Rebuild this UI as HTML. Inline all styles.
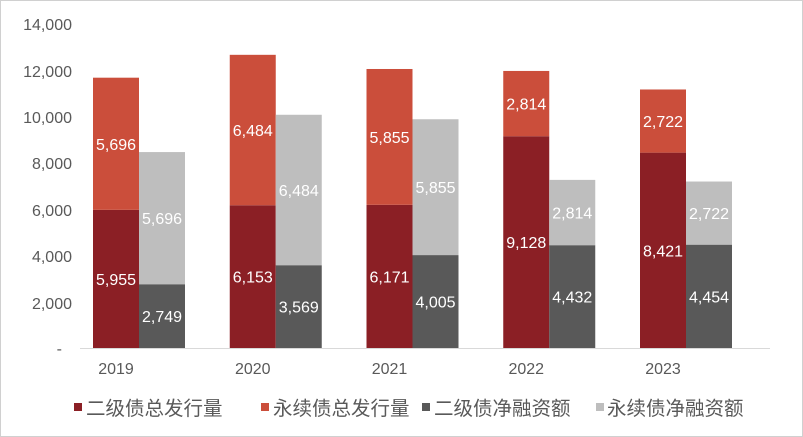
<!DOCTYPE html>
<html><head><meta charset="utf-8"><style>
body{margin:0;background:#fff;}
svg{display:block;font-family:"Liberation Sans","Noto Sans CJK SC",sans-serif;}
</style></head><body>
<svg width="803" height="437" viewBox="0 0 803 437">
<rect x="0.5" y="0.5" width="802" height="436" fill="#fff" stroke="#d0d0d0"/>
<g font-size="16" fill="#595959" text-anchor="end">
<text x="72" y="30">14,000</text>
<text x="72" y="77">12,000</text>
<text x="72" y="123">10,000</text>
<text x="72" y="169">8,000</text>
<text x="72" y="216">6,000</text>
<text x="72" y="262">4,000</text>
<text x="72" y="309">2,000</text>
<text x="62" y="354">-</text>
</g>
<line x1="80" y1="348.5" x2="770" y2="348.5" stroke="#d9d9d9"/>

<g>
<rect x="93" y="209.84" width="46" height="138.16" fill="#8B1F25"/>
<rect x="93" y="77.69" width="46" height="132.15" fill="#CB4E3B"/>
<rect x="139" y="284.22" width="46" height="63.78" fill="#595959"/>
<rect x="139" y="152.07" width="46" height="132.15" fill="#BEBEBE"/>

<rect x="229.75" y="205.25" width="46" height="142.75" fill="#8B1F25"/>
<rect x="229.75" y="54.82" width="46" height="150.43" fill="#CB4E3B"/>
<rect x="275.75" y="265.2" width="46" height="82.8" fill="#595959"/>
<rect x="275.75" y="114.77" width="46" height="150.43" fill="#BEBEBE"/>

<rect x="366.5" y="204.83" width="46" height="143.17" fill="#8B1F25"/>
<rect x="366.5" y="68.99" width="46" height="135.84" fill="#CB4E3B"/>
<rect x="412.5" y="255.08" width="46" height="92.92" fill="#595959"/>
<rect x="412.5" y="119.24" width="46" height="135.84" fill="#BEBEBE"/>

<rect x="503.25" y="136.23" width="46" height="211.77" fill="#8B1F25"/>
<rect x="503.25" y="70.95" width="46" height="65.28" fill="#CB4E3B"/>
<rect x="549.25" y="245.18" width="46" height="102.82" fill="#595959"/>
<rect x="549.25" y="179.9" width="46" height="65.28" fill="#BEBEBE"/>

<rect x="640" y="152.63" width="46" height="195.37" fill="#8B1F25"/>
<rect x="640" y="89.48" width="46" height="63.15" fill="#CB4E3B"/>
<rect x="686" y="244.67" width="46" height="103.33" fill="#595959"/>
<rect x="686" y="181.52" width="46" height="63.15" fill="#BEBEBE"/>
</g>

<g font-size="16" fill="#fff" text-anchor="middle">
<text x="116" y="284.9">5,955</text>
<text x="116" y="149.8">5,696</text>
<text x="162" y="322.1">2,749</text>
<text x="162" y="224.1">5,696</text>

<text x="252.75" y="282.6">6,153</text>
<text x="252.75" y="136">6,484</text>
<text x="298.75" y="312.6">3,569</text>
<text x="298.75" y="196">6,484</text>

<text x="389.5" y="282.4">6,171</text>
<text x="389.5" y="142.9">5,855</text>
<text x="435.5" y="307.5">4,005</text>
<text x="435.5" y="193.2">5,855</text>

<text x="526.25" y="248.1">9,128</text>
<text x="526.25" y="109.6">2,814</text>
<text x="572.25" y="302.6">4,432</text>
<text x="572.25" y="218.5">2,814</text>

<text x="663" y="256.3">8,421</text>
<text x="663" y="127.1">2,722</text>
<text x="709" y="302.3">4,454</text>
<text x="709" y="219.1">2,722</text>
</g>

<g font-size="16" fill="#595959" text-anchor="middle">
<text x="116" y="374">2019</text>
<text x="252.75" y="374">2020</text>
<text x="389.5" y="374">2021</text>
<text x="526.25" y="374">2022</text>
<text x="663" y="374">2023</text>
</g>

<g font-size="19.5" fill="#595959">
<rect x="74" y="403" width="8" height="8" fill="#8B1F25"/><text x="86" y="415">二级债总发行量</text>
<rect x="261" y="403" width="8" height="8" fill="#CB4E3B"/><text x="273" y="415">永续债总发行量</text>
<rect x="422" y="403" width="8" height="8" fill="#595959"/><text x="434" y="415">二级债净融资额</text>
<rect x="596" y="403" width="8" height="8" fill="#BEBEBE"/><text x="607" y="415">永续债净融资额</text>
</g>
</svg>
</body></html>
